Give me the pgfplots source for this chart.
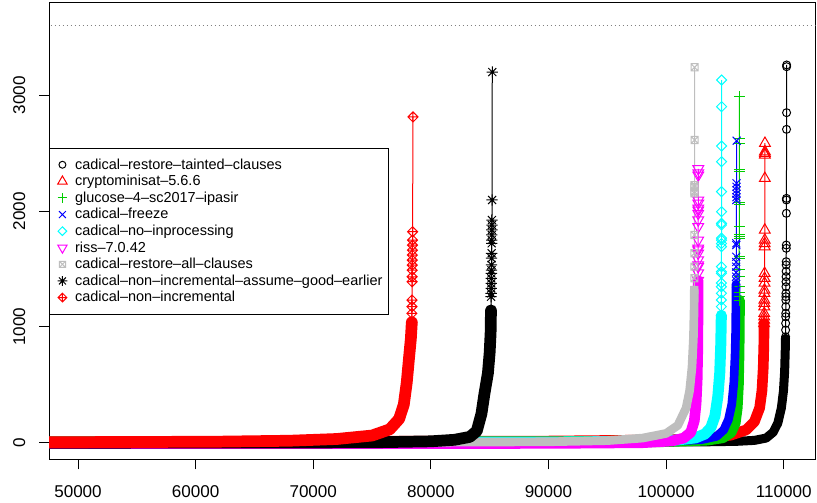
\documentclass[border=0pt]{standalone}
\usepackage{fontspec}
\setmainfont{Liberation Sans}
\usepackage{pgfplots}
\pgfplotsset{compat=1.18}

\definecolor{rgreen}{RGB}{0,205,0}
\definecolor{rgray}{RGB}{190,190,190}
\definecolor{rcyan}{RGB}{0,255,255}
\definecolor{rmag}{RGB}{255,0,255}
\definecolor{rred}{RGB}{255,0,0}
\definecolor{rblue}{RGB}{0,0,255}

\pgfdeclareplotmark{rdiam}{%
 \pgfpathmoveto{\pgfqpoint{0pt}{\pgfplotmarksize}}%
 \pgfpathlineto{\pgfqpoint{\pgfplotmarksize}{0pt}}%
 \pgfpathlineto{\pgfqpoint{0pt}{-\pgfplotmarksize}}%
 \pgfpathlineto{\pgfqpoint{-\pgfplotmarksize}{0pt}}%
 \pgfpathclose\pgfusepathqstroke}
\pgfdeclareplotmark{rdplus}{%
 \pgfpathmoveto{\pgfqpoint{0pt}{\pgfplotmarksize}}%
 \pgfpathlineto{\pgfqpoint{\pgfplotmarksize}{0pt}}%
 \pgfpathlineto{\pgfqpoint{0pt}{-\pgfplotmarksize}}%
 \pgfpathlineto{\pgfqpoint{-\pgfplotmarksize}{0pt}}%
 \pgfpathclose
 \pgfpathmoveto{\pgfqpoint{-\pgfplotmarksize}{0pt}}%
 \pgfpathlineto{\pgfqpoint{\pgfplotmarksize}{0pt}}%
 \pgfpathmoveto{\pgfqpoint{0pt}{-\pgfplotmarksize}}%
 \pgfpathlineto{\pgfqpoint{0pt}{\pgfplotmarksize}}%
 \pgfusepathqstroke}
\pgfdeclareplotmark{rtridown}{%
 \pgfpathmoveto{\pgfqpoint{0pt}{-\pgfplotmarksize}}%
 \pgfpathlineto{\pgfqpoint{.866\pgfplotmarksize}{.5\pgfplotmarksize}}%
 \pgfpathlineto{\pgfqpoint{-.866\pgfplotmarksize}{.5\pgfplotmarksize}}%
 \pgfpathclose\pgfusepathqstroke}
\pgfdeclareplotmark{rsqx}{%
 \pgfpathrectangle{\pgfqpoint{-\pgfplotmarksize}{-\pgfplotmarksize}}{\pgfqpoint{2\pgfplotmarksize}{2\pgfplotmarksize}}%
 \pgfpathmoveto{\pgfqpoint{-\pgfplotmarksize}{-\pgfplotmarksize}}%
 \pgfpathlineto{\pgfqpoint{\pgfplotmarksize}{\pgfplotmarksize}}%
 \pgfpathmoveto{\pgfqpoint{-\pgfplotmarksize}{\pgfplotmarksize}}%
 \pgfpathlineto{\pgfqpoint{\pgfplotmarksize}{-\pgfplotmarksize}}%
 \pgfusepathqstroke}
\pgfdeclareplotmark{rstar}{%
 \pgfpathmoveto{\pgfqpoint{-\pgfplotmarksize}{0pt}}%
 \pgfpathlineto{\pgfqpoint{\pgfplotmarksize}{0pt}}%
 \pgfpathmoveto{\pgfqpoint{0pt}{-\pgfplotmarksize}}%
 \pgfpathlineto{\pgfqpoint{0pt}{\pgfplotmarksize}}%
 \pgfpathmoveto{\pgfqpoint{-.7071\pgfplotmarksize}{-.7071\pgfplotmarksize}}%
 \pgfpathlineto{\pgfqpoint{.7071\pgfplotmarksize}{.7071\pgfplotmarksize}}%
 \pgfpathmoveto{\pgfqpoint{-.7071\pgfplotmarksize}{.7071\pgfplotmarksize}}%
 \pgfpathlineto{\pgfqpoint{.7071\pgfplotmarksize}{-.7071\pgfplotmarksize}}%
 \pgfusepathqstroke}

\begin{document}
\begin{tikzpicture}
\begin{axis}[
 scale only axis, width=575pt, height=342.45pt,
 xmin=47534, xmax=112716, ymin=-143, ymax=3800,
 axis line style={line width=0.75pt, black},
 tick pos=left, tick align=outside, major tick length=7.5pt,
 every tick/.style={black, line width=0.75pt},
 xtick={50000,60000,70000,80000,90000,100000,110000},
 xticklabels={50000,60000,70000,80000,90000,100000,110000},
 ytick={0,1000,2000,3000}, yticklabels={0,1000,2000,3000},
 tick label style={font=\fontsize{12.8}{15}\selectfont},
 xticklabel style={anchor=north, inner sep=0pt, yshift=-11.8pt},
 yticklabel style={xshift=-10.5pt, rotate=90, anchor=base, inner sep=0pt},
 legend style={at={(0,0.681)}, anchor=north west, draw=black, line width=0.75pt, fill=white,
   font=\fontsize{10.86}{13}\selectfont, inner xsep=4.7pt, inner ysep=6.15pt,
   row sep=0pt, column sep=4.45pt,
   nodes={inner sep=0pt, text height=9pt, text depth=3.45pt}, cells={anchor=base west}},
 legend image code/.code={\path[draw=none, fill=none] (-5pt,0pt) -- (5pt,0pt);
   \draw[#1, only marks, every mark/.append style={scale=0.87}] plot coordinates {(0pt,3.2pt)};},
]
\addplot[forget plot, black!50, line width=0.75pt, dash pattern=on 0.75pt off 2.25pt] coordinates {(47000,3600) (113000,3600)};

% 1 cadical-restore-tainted-clauses
\addplot[forget plot, black, line width=6.75pt, line cap=round, line join=round] coordinates {
(47000,2) (95000,4) (103000,7) (106000,12) (107500,20) (108500,40) (109100,90) (109500,170) (109800,300) (109980,450) (110080,620) (110130,800) (110150,900)};
\addplot[black, line width=0.75pt, mark=o, mark size=3pt] coordinates {
(110150,900) (110156,915) (110160,973) (110164,1031) (110168,1088) (110172,1117) (110176,1175) (110180,1232) (110184,1261) (110188,1290) (110192,1347) (110196,1390) (110200,1434) (110204,1480) (110208,1535) (110212,1563) (110216,1679) (110220,1707) (110225,1981) (110230,2096) (110234,2110) (110238,2706) (110243,2850) (110246,3247) (110248,3262)};
\addlegendentry{cadical--restore--tainted--clauses}

% 2 cryptominisat
\addplot[forget plot, rred, line width=8pt, line cap=round, line join=round] coordinates {
(47000,8) (90000,14) (100000,24) (103500,40) (105500,65) (106800,110) (107500,180) (107950,300) (108150,450) (108260,650) (108310,850) (108330,1030)};
\addplot[rred, line width=0.75pt, mark=triangle, mark size=4.67pt] coordinates {
(108330,1030) (108334,1060) (108338,1088) (108342,1117) (108346,1175) (108350,1204) (108354,1232) (108358,1290) (108362,1319) (108366,1379) (108370,1420) (108374,1463) (108378,1693) (108382,1720) (108386,1750) (108390,1837) (108394,2283) (108398,2485) (108400,2499) (108402,2513) (108404,2586)};
\addlegendentry{cryptominisat--5.6.6}

% 3 glucose
\addplot[forget plot, rgreen, line width=8.5pt, line cap=round, line join=round] coordinates {
(47000,3) (90000,6) (100000,12) (103500,25) (104800,45) (105500,90) (105850,170) (106020,300) (106120,500) (106170,750) (106200,1000) (106210,1230)};
\addplot[rgreen, line width=0.75pt, mark=+, mark size=4.2pt] coordinates {
(106210,1230) (106212,1260) (106213,1300) (106214,1350) (106215,1431) (106216,1500) (106217,1594) (106218,1606) (106219,1767) (106220,1780) (106221,1794) (106222,1865) (106223,2061) (106224,2070) (106225,2340) (106226,2355) (106227,2586) (106228,2629) (106230,2988)};
\addlegendentry{glucose--4--sc2017--ipasir}

% 4 cadical-freeze
\addplot[forget plot, rblue, line width=6.5pt, line cap=round, line join=round] coordinates {
(47000,2) (90000,5) (100000,12) (103000,26) (104300,55) (104900,110) (105300,200) (105580,330) (105760,520) (105860,750) (105920,1000) (105945,1370)};
\addplot[rblue, line width=0.75pt, mark=x, mark size=4.2pt] coordinates {
(105945,1370) (105950,1400) (105953,1434) (105956,1470) (105959,1520) (105962,1560) (105965,1606) (105968,1707) (105971,1722) (105975,2096) (105978,2120) (105981,2150) (105984,2180) (105987,2210) (105990,2240) (105997,2608)};
\addlegendentry{cadical--freeze}

% 5 cadical-no-inprocessing
\addplot[forget plot, rcyan, line width=8.25pt, line cap=round, line join=round] coordinates {
(47000,2) (90000,5) (98000,12) (101000,24) (102500,42) (103300,75) (103800,130) (104150,230) (104400,400) (104560,600) (104650,850) (104695,1100)};
\addplot[rcyan, line width=0.75pt, mark=rdiam, mark size=3.76pt] coordinates {
(104695,1100) (104699,1175) (104700,1232) (104701,1290) (104702,1347) (104703,1379) (104704,1463) (104705,1477) (104706,1520) (104707,1693) (104708,1720) (104709,1750) (104710,1767) (104711,1880) (104712,1894) (104713,1995) (104714,2168) (104715,2427) (104716,2562) (104718,2902) (104720,3132)};
\addlegendentry{cadical--no--inprocessing}

% 6 riss
\addplot[forget plot, rmag, line width=8pt, line cap=round, line join=round] coordinates {
(47000,-8) (90000,-6) (98000,0) (100500,15) (101500,40) (102100,90) (102400,190) (102550,340) (102640,540) (102690,800) (102710,1100) (102720,1400)};
\addplot[rmag, line width=0.75pt, mark=rtridown, mark size=4.67pt] coordinates {
(102720,1400) (102721,1465) (102722,1520) (102723,1535) (102724,1578) (102725,1636) (102726,1664) (102727,1679) (102728,1749) (102729,1865) (102730,1923) (102731,1980) (102732,2008) (102733,2025) (102733,2068) (102734,2094) (102734,2310) (102735,2330) (102735,2365)};
\addlegendentry{riss--7.0.42}

% 7 cadical-restore-all-clauses
\addplot[forget plot, rgray, line width=6.5pt, line cap=round, line join=round] coordinates {
(47000,3) (80000,4) (90000,8) (95000,18) (98000,40) (100000,80) (101000,150) (101700,300) (102000,450) (102200,650) (102320,900) (102380,1150) (102395,1320)};
\addplot[rgray, line width=0.75pt, mark=rsqx, mark size=2.66pt] coordinates {
(102395,1320) (102398,1420) (102401,1520) (102404,1636) (102407,1794) (102410,2154) (102412,2168) (102414,2209) (102416,2224) (102418,2614) (102420,3242)};
\addlegendentry{cadical--restore--all--clauses}

% 8 cadical-non-incremental-assume-good-earlier
\addplot[forget plot, black, line width=8.8pt, line cap=round, line join=round] coordinates {
(47000,0) (70000,2) (76000,5) (80000,12) (82000,25) (83300,50) (83900,100) (84300,250) (84550,420) (84850,600) (85000,780) (85080,950) (85110,1140)};
\addplot[black, line width=0.75pt, mark=rstar, mark size=4.24pt] coordinates {
(85110,1140) (85115,1146) (85120,1261) (85125,1290) (85130,1333) (85135,1376) (85140,1419) (85145,1462) (85150,1490) (85155,1535) (85160,1593) (85165,1636) (85170,1722) (85175,1750) (85180,1794) (85185,1837) (85190,1880) (85195,1923) (85205,2096) (85220,3201)};
\addlegendentry{cadical--non--incremental--assume--good--earlier}

% 9 cadical-non-incremental
\addplot[forget plot, rred, line width=8.8pt, line cap=round, line join=round] coordinates {
(47000,4) (55000,6) (62000,9) (68000,17) (72000,32) (75000,62) (76500,115) (77300,205) (77700,330) (77950,520) (78150,740) (78300,900) (78380,1040)};
\addplot[rred, line width=0.75pt, mark=rdplus, mark size=3.76pt] coordinates {
(78380,1040) (78385,1117) (78390,1175) (78395,1232) (78400,1390) (78405,1433) (78410,1490) (78415,1534) (78420,1577) (78425,1620) (78430,1663) (78435,1706) (78440,1750) (78445,1822) (78480,2813)};
\addlegendentry{cadical--non--incremental}
\end{axis}
\pgfresetboundingbox
\path ([shift={(-36.75pt,-32.8pt)}]current axis.south west) rectangle ([shift={(1pt,2pt)}]current axis.north east);
\end{tikzpicture}
\end{document}
